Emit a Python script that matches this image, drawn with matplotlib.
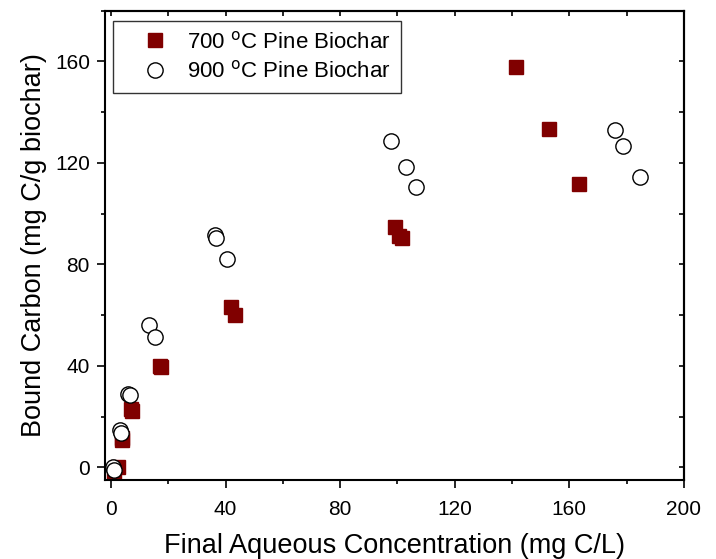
import matplotlib.pyplot as plt
from matplotlib.ticker import MultipleLocator

plt.rcParams['font.family'] = ['Liberation Sans', 'DejaVu Sans']

# 700 C pine biochar
x700 = [1.0, 2.3, 3.7, 4.0, 7.0, 7.5, 17.1, 17.6, 42.0, 43.4, 99.3, 100.7, 101.5, 141.3, 152.9, 163.4]
y700 = [-2.0, 0.0, 10.8, 11.5, 23.0, 22.4, 40.0, 39.5, 63.2, 59.9, 94.8, 91.0, 90.2, 157.8, 133.4, 111.7]

# 900 C pine biochar
x900 = [0.8, 1.2, 3.15, 3.5, 6.05, 6.5, 13.3, 15.4, 36.4, 36.7, 40.4, 97.8, 103.0, 106.6, 176.0, 178.7, 184.7]
y900 = [0.0, -1.0, 14.8, 13.5, 29.0, 28.6, 56.0, 51.4, 91.5, 90.2, 82.3, 128.8, 118.5, 110.6, 133.0, 126.8, 114.6]

fig = plt.figure(figsize=(7.16, 5.59), dpi=100)
ax = fig.add_axes([0.147, 0.1413, 0.808, 0.8396])

ax.plot(x700, y700, 's', color='#800000', markersize=10, mec='#800000',
        label='700 $^{\\mathrm{o}}$C Pine Biochar')
ax.plot(x900, y900, 'o', mfc='white', mec='black', mew=1.0, markersize=11,
        label='900 $^{\\mathrm{o}}$C Pine Biochar')

ax.set_xlim(-2, 200)
ax.set_ylim(-5, 180)
ax.xaxis.set_major_locator(MultipleLocator(40))
ax.xaxis.set_minor_locator(MultipleLocator(20))
ax.yaxis.set_major_locator(MultipleLocator(40))
ax.yaxis.set_minor_locator(MultipleLocator(20))
ax.tick_params(which='major', direction='out', length=6, width=1.2, labelsize=15)
ax.tick_params(which='minor', direction='out', length=3, width=1.2)
ax.tick_params(axis='x', which='major', pad=8.5)
ax.tick_params(axis='y', which='major', pad=5)

# ticks on top and right point inward
top = ax.secondary_xaxis('top')
top.xaxis.set_major_locator(MultipleLocator(20))
top.tick_params(direction='in', length=3.5, width=1.2, labeltop=False)
right = ax.secondary_yaxis('right')
right.yaxis.set_major_locator(MultipleLocator(20))
right.tick_params(direction='in', length=3.5, width=1.2, labelright=False)

for s in ax.spines.values():
    s.set_linewidth(1.5)
top.spines['top'].set_linewidth(1.5)
right.spines['right'].set_linewidth(1.5)

ax.set_xlabel('Final Aqueous Concentration (mg C/L)', fontsize=19.5, labelpad=10)
ax.set_ylabel('Bound Carbon (mg C/g biochar)', fontsize=19.5, labelpad=6)

leg = ax.legend(loc='upper left', fontsize=16, frameon=True, fancybox=False,
                edgecolor='black', borderpad=0.45, handlelength=2.9,
                handletextpad=0.0, labelspacing=0.35, borderaxespad=0,
                bbox_to_anchor=(0.013, 0.978))
leg.get_frame().set_linewidth(1.0)

fig.savefig('out.png', dpi=100)
